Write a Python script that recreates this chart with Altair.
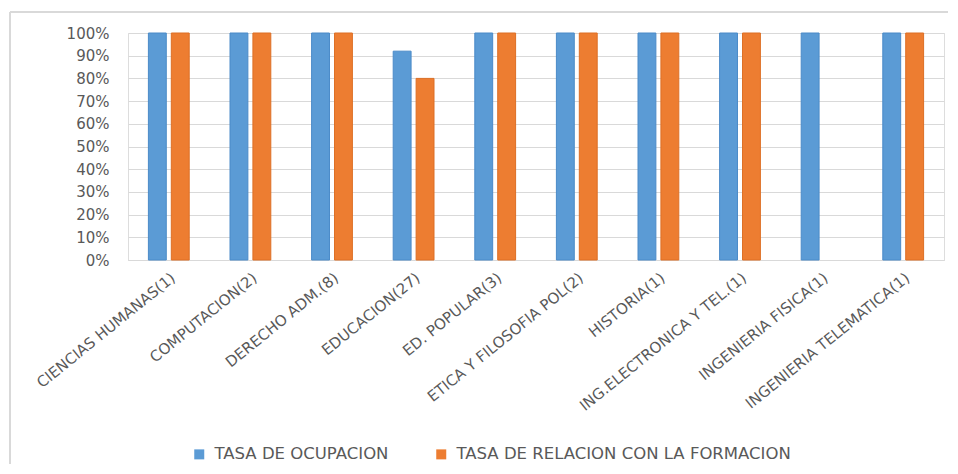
import altair as alt
import pandas as pd

categories = [
    "CIENCIAS HUMANAS(1)", "COMPUTACION(2)", "DERECHO ADM.(8)", "EDUCACION(27)",
    "ED. POPULAR(3)", "ETICA Y FILOSOFIA POL(2)", "HISTORIA(1)",
    "ING.ELECTRONICA Y TEL.(1)", "INGENIERIA FISICA(1)", "INGENIERIA TELEMATICA(1)",
]
series = ["TASA DE OCUPACION", "TASA DE RELACION CON LA FORMACION"]
ocupacion = [1.0, 1.0, 1.0, 0.92, 1.0, 1.0, 1.0, 1.0, 1.0, 1.0]
relacion = [1.0, 1.0, 1.0, 0.80, 1.0, 1.0, 1.0, 1.0, None, 1.0]
y_ticks = [0, 0.1, 0.2, 0.3, 0.4, 0.5, 0.6, 0.7, 0.8, 0.9, 1.0]

rows = []
for c, a, b in zip(categories, ocupacion, relacion):
    rows.append({"cat": c, "serie": series[0], "val": a})
    if b is not None:
        rows.append({"cat": c, "serie": series[1], "val": b})
df = pd.DataFrame(rows)

FONT = "DejaVu Sans"
GRAY = "#595959"

bars = alt.Chart(df).mark_bar(strokeWidth=1).encode(
    x=alt.X("cat:N", sort=categories, title=None,
            scale=alt.Scale(paddingInner=0.5, paddingOuter=0.25),
            axis=alt.Axis(labelAngle=-39, labelFontSize=15, labelColor=GRAY, labelFont=FONT,
                          ticks=False, domainColor="#D9D9D9", labelPadding=10, labelLimit=400)),
    xOffset=alt.XOffset("serie:N", sort=series, scale=alt.Scale(paddingInner=0.22)),
    y=alt.Y("val:Q", title=None,
            scale=alt.Scale(domain=[0, 1]),
            axis=alt.Axis(format=".0%", values=y_ticks, labelFontSize=15, labelColor=GRAY,
                          labelFont=FONT, ticks=False, domain=False, labelPadding=19,
                          gridColor="#D9D9D9", gridWidth=1)),
    color=alt.Color("serie:N", sort=series,
                    scale=alt.Scale(domain=series, range=["#5B9BD5", "#ED7D31"]),
                    legend=alt.Legend(title=None, orient="none", direction="horizontal",
                                      legendX=63, legendY=413, symbolType="square",
                                      symbolSize=100, symbolStrokeWidth=0,
                                      labelFontSize=16.5, labelFont=FONT, labelColor=GRAY,
                                      labelLimit=500, columnPadding=44, labelOffset=7)),
    stroke=alt.Stroke("serie:N", sort=series,
                      scale=alt.Scale(domain=series, range=["#4A8AC8", "#DD6F25"]),
                      legend=None),
)

frame_src = pd.DataFrame({"k": [0]})
frame_top = alt.Chart(frame_src).mark_rule(stroke="#D9D9D9", strokeWidth=2, clip=False).encode(
    x=alt.value(-118), x2=alt.value(822), y=alt.value(-21)
)
frame_left = alt.Chart(frame_src).mark_rule(stroke="#D9D9D9", strokeWidth=2, clip=False).encode(
    x=alt.value(-118), y=alt.value(-21), y2=alt.value(431)
)

chart = alt.layer(frame_top, frame_left, bars).properties(
    width=816, height=227,
    autosize=alt.AutoSizeParams(type="none"),
    padding={"left": 120, "top": 25, "right": 4, "bottom": 204},
).configure_view(stroke=None).configure(background="white")

chart.save("out.html", embed_options={"renderer": "svg", "actions": False})
